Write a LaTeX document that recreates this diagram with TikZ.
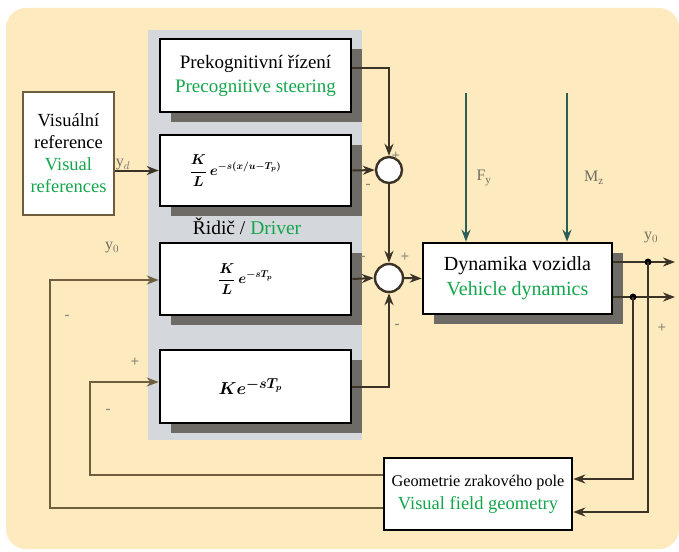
\documentclass[tikz,border=0pt]{standalone}
\usepackage{fontspec}
\setmainfont{Liberation Serif}
\usetikzlibrary{arrows.meta, shadows}

\definecolor{cream}{HTML}{FDEABF}
\definecolor{panelgray}{HTML}{D4D7DB}
\definecolor{shadowgray}{HTML}{6E6B67}
\definecolor{wire}{HTML}{3B3326}
\definecolor{fbwire}{HTML}{6F5E3E}
\definecolor{engreen}{HTML}{14A64C}
\definecolor{forcecol}{HTML}{2C5E58}
\definecolor{signcol}{HTML}{8C8A78}

\tikzset{
x=1pt, y=-1pt, % pixel units, y grows downwards
>={Stealth[length=12pt,width=9pt]},
block/.style={draw=black, line width=2.6pt, fill=white, align=center, inner sep=0pt,
  font=\fontsize{19}{22}\selectfont}, % white boxes
shadowed/.style={drop shadow={shadow xshift=11pt, shadow yshift=-10pt, fill=shadowgray, opacity=1}},
sum/.style={circle, draw=wire, line width=2.4pt, fill=white, minimum size=26pt, inner sep=0pt},
wire/.style={draw=wire, line width=2pt},
fb/.style={draw=fbwire, line width=1.8pt},
force/.style={draw=forcecol, line width=2pt, -{Stealth[length=12pt,width=9pt,fill=forcecol]}},
sign/.style={text=signcol, font=\fontsize{15}{15}\selectfont\bfseries, inner sep=0pt},
siglabel/.style={text=signcol!80!black, font=\fontsize{16}{16}\selectfont, inner sep=0pt},
formula/.style={font=\fontsize{14}{16}\selectfont\boldmath},
}

\begin{document}
\begin{tikzpicture}
\useasboundingbox (0,0) rectangle (679,551);
% background and driver panel
\fill[cream, rounded corners=20pt] (6,8) rectangle (679,549);
\fill[panelgray] (148,30) rectangle (362,440);

% blocks
\node[block, shadowed, minimum width=191pt, minimum height=73pt] (precog) at (255.5,75.5)
  {Prekognitivní řízení\\[2pt]\color{engreen}Precognitive steering};
\node[block, shadowed, formula, minimum width=191pt, minimum height=71pt] (kl1) at (255.5,170.5)
  {$\displaystyle\frac{K}{L}\,e^{-s(x/u-T_p)}$\hspace*{40pt}};
\node[block, shadowed, formula, minimum width=191pt, minimum height=72pt] (kl2) at (255.5,279)
  {$\displaystyle\frac{K}{L}\,e^{-sT_p}$\hspace*{20pt}};
\node[block, shadowed, formula, font=\fontsize{19}{20}\selectfont\boldmath, minimum width=191pt, minimum height=73pt] (ke) at (255.5,386.5)
  {$Ke^{-sT_p}$\hspace*{10pt}};
\node[font=\fontsize{19.5}{21}\selectfont] (driver) at (247,226) {Řidič / {\color{engreen}Driver}};

\node[block, draw=fbwire, line width=1.8pt, minimum width=91pt, minimum height=123pt,
  font=\fontsize{18.5}{22}\selectfont] (vis) at (68.5,153.5)
  {Visuální\\reference\\\color{engreen}Visual\\\color{engreen}references};
\node[block, shadowed, font=\fontsize{20}{22}\selectfont, minimum width=189pt, minimum height=71pt] (dyn) at (517.5,278.5)
  {Dynamika vozidla\\[3pt]\color{engreen}Vehicle dynamics};
\node[block, minimum width=188pt, minimum height=72pt, font=\fontsize{16.3}{20}\selectfont] (geom) at (478,494)
  {Geometrie zrakového pole\\[3pt]{\fontsize{18.5}{20}\selectfont\color{engreen}Visual field geometry}};

% summing points
\node[sum] (sum1) at (389,170) {};
\node[sum, minimum size=28pt] (sum2) at (389,278) {};

% helper coordinates
\coordinate (fy) at (466,93);
\coordinate (mz) at (567,93);
\coordinate (out1) at (675,262);
\coordinate (out2) at (675,297);
\coordinate (d1) at (648,262);
\coordinate (d2) at (633,297);
\coordinate (inner) at (90,382);
\coordinate (outer) at (50,280);

% forward path
\draw[wire, ->] ([yshift=7.5pt]precog.east) -| (sum1.north);
\draw[wire, ->] (vis.east |- kl1.west) -- (kl1.west);
\node[siglabel] (yd) at (123,165) {y$_d$};
\draw[wire, ->] (kl1.east) -- (sum1.west);
\draw[wire, ->] (sum1.south) -- (sum2.north);
\draw[wire, ->] (kl2.east) -- (sum2.west);
\draw[wire, ->] (ke.east) -| (sum2.south);
\draw[wire, ->] (sum2.east) -- (dyn.west);
\draw[force] (fy) -- (fy |- dyn.north);
\draw[force] (mz) -- (mz |- dyn.north);
\node[siglabel] (fyl) at (484,178) {F$_\mathrm{y}$};
\node[siglabel] (mzl) at (594,178) {M$_\mathrm{z}$};

% outputs
\draw[wire, ->] (dyn.east |- out1) -- (out1);
\draw[wire, ->] (dyn.east |- out2) -- (out2);
\fill[black] (d1) circle (3.5pt) (d2) circle (3.5pt);
\node[siglabel] (y0r) at (651,238) {y$_0$};
\draw[wire, ->] (d1) |- ([yshift=-18pt]geom.east);
\draw[wire, ->] (d2) |- ([yshift=15pt]geom.east);

% feedback to the driver
\draw[fb, ->] ([yshift=19pt]geom.west) -| (inner) -- (inner -| ke.west);
\draw[fb, ->] ([yshift=-14pt]geom.west) -| (outer) -- (outer -| kl2.west);
\node[siglabel] (y0l) at (112,248) {y$_0$};

% signs
\node[sign] at (396,156) {+};
\node[sign] at (368,186) {-};
\node[sign] at (405,257) {+};
\node[sign] at (363,258) {-};
\node[sign] at (397,326) {-};
\node[sign] at (662,328) {+};
\node[sign] at (67,317) {-};
\node[sign] at (135,362) {+};
\node[sign] at (108,411) {-};
\end{tikzpicture}
\end{document}
